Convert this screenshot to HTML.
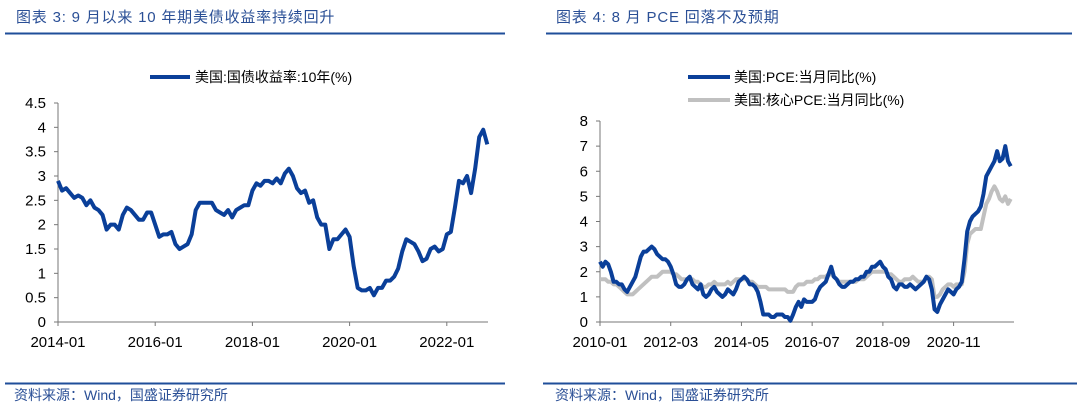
<!DOCTYPE html>
<html><head><meta charset="utf-8"><style>
body{margin:0;background:#fff;}
svg text{font-family:"Liberation Sans","Noto Sans CJK SC",sans-serif;}
</style></head><body>
<svg id="s" width="1080" height="411" xmlns="http://www.w3.org/2000/svg">
<text x="16" y="22" font-size="15" letter-spacing="0.8" fill="#2a4f96">图表 3:  9 月以来 10 年期美债收益率持续回升</text>
<line x1="5" y1="33.5" x2="505" y2="33.5" stroke="#1f4e9a" stroke-width="2"/>
<text x="556" y="22" font-size="15" letter-spacing="0.8" fill="#2a4f96">图表 4:  8 月 PCE 回落不及预期</text>
<line x1="546" y1="33.5" x2="1072" y2="33.5" stroke="#1f4e9a" stroke-width="2"/>
<line x1="5" y1="383.5" x2="505" y2="383.5" stroke="#1f4e9a" stroke-width="2"/>
<line x1="543" y1="383.5" x2="1077" y2="383.5" stroke="#1f4e9a" stroke-width="2"/>
<text x="14" y="400" font-size="14" fill="#2a4f96">资料来源：Wind，国盛证券研究所</text>
<text x="555" y="400" font-size="14" fill="#2a4f96">资料来源：Wind，国盛证券研究所</text>
<line x1="150" y1="77" x2="190" y2="77" stroke="#0a3f99" stroke-width="4"/>
<text x="195" y="82" font-size="14" fill="#000">美国:国债收益率:10年(%)</text>
<line x1="688" y1="77" x2="730" y2="77" stroke="#0a3f99" stroke-width="4"/>
<text x="734" y="82" font-size="14" fill="#000">美国:PCE:当月同比(%)</text>
<line x1="688" y1="100" x2="730" y2="100" stroke="#c0c0c0" stroke-width="4"/>
<text x="734" y="105" font-size="14" fill="#000">美国:核心PCE:当月同比(%)</text>
<g id="L"></g><g id="R"></g>
</svg>
<script>
const yieldVals=[2.9,2.7,2.75,2.65,2.55,2.6,2.55,2.4,2.5,2.35,2.3,2.2,
1.9,2.0,2.0,1.9,2.2,2.35,2.3,2.2,2.1,2.1,2.25,2.25,
2.0,1.75,1.8,1.8,1.85,1.6,1.5,1.55,1.6,1.8,2.3,2.45,
2.45,2.45,2.45,2.3,2.25,2.2,2.3,2.15,2.3,2.35,2.4,2.4,
2.7,2.85,2.8,2.9,2.9,2.85,2.95,2.85,3.05,3.15,3.0,2.75,
2.65,2.7,2.45,2.5,2.15,2.0,2.0,1.5,1.7,1.7,1.8,1.9,
1.75,1.15,0.7,0.65,0.65,0.7,0.55,0.7,0.7,0.85,0.85,0.93,
1.1,1.45,1.7,1.65,1.6,1.45,1.25,1.3,1.5,1.55,1.45,1.5,
1.8,1.85,2.35,2.9,2.85,3.0,2.65,3.15,3.8,3.95,3.65];
const leftXLabels=["2014-01","2016-01","2018-01","2020-01","2022-01"];
const leftXLabelMonths=[0,24,48,72,96];
const leftYTicks=[0,0.5,1,1.5,2,2.5,3,3.5,4,4.5];
const pceVals=[2.4,2.2,2.4,2.3,2.0,1.6,1.6,1.5,1.5,1.3,1.2,1.4,
1.6,1.8,2.2,2.6,2.8,2.8,2.9,3.0,2.9,2.7,2.6,2.5,
2.5,2.4,2.2,1.9,1.5,1.4,1.4,1.5,1.7,1.8,1.5,1.4,
1.3,1.5,1.1,1.0,1.1,1.3,1.4,1.2,1.1,1.0,1.1,1.3,
1.2,1.1,1.3,1.6,1.7,1.8,1.7,1.5,1.5,1.4,1.2,0.8,
0.3,0.3,0.3,0.2,0.2,0.3,0.3,0.3,0.2,0.2,0.05,0.3,
0.6,0.8,0.6,0.9,0.8,0.8,0.8,0.9,1.2,1.4,1.5,1.6,
1.9,2.2,1.8,1.7,1.5,1.4,1.4,1.5,1.6,1.6,1.7,1.7,
1.8,1.8,2.0,2.0,2.2,2.2,2.3,2.4,2.2,2.1,1.8,1.7,
1.4,1.3,1.5,1.5,1.4,1.4,1.5,1.4,1.3,1.4,1.5,1.6,
1.8,1.7,1.3,0.5,0.4,0.7,0.9,1.1,1.3,1.2,1.1,1.3,
1.4,1.6,2.5,3.6,4.0,4.2,4.3,4.4,4.6,5.1,5.8,6.0,
6.2,6.4,6.8,6.4,6.5,7.0,6.4,6.2];
const corePceVals=[1.7,1.7,1.7,1.6,1.6,1.5,1.5,1.4,1.3,1.2,1.1,1.1,
1.1,1.2,1.3,1.4,1.5,1.6,1.7,1.8,1.8,1.8,1.9,2.0,
2.0,2.0,2.0,1.9,1.9,1.8,1.7,1.7,1.7,1.7,1.7,1.6,
1.6,1.5,1.4,1.4,1.5,1.5,1.6,1.5,1.5,1.5,1.5,1.6,
1.5,1.6,1.7,1.7,1.7,1.7,1.7,1.6,1.6,1.5,1.4,1.4,
1.4,1.4,1.3,1.3,1.3,1.3,1.3,1.3,1.3,1.2,1.2,1.2,
1.4,1.5,1.5,1.5,1.6,1.6,1.6,1.7,1.7,1.8,1.8,1.8,
1.9,1.9,1.8,1.7,1.6,1.6,1.6,1.6,1.6,1.6,1.6,1.7,
1.7,1.7,1.8,1.9,2.0,2.0,2.0,2.0,2.0,2.0,1.9,1.9,
1.8,1.7,1.6,1.6,1.7,1.7,1.7,1.8,1.7,1.6,1.6,1.6,
1.8,1.8,1.7,1.0,1.0,1.1,1.3,1.4,1.5,1.5,1.4,1.5,
1.5,1.5,2.0,3.1,3.5,3.6,3.7,3.7,3.7,4.2,4.7,4.9,
5.2,5.4,5.2,4.9,4.8,5.0,4.7,4.9];
const rightXLabels=["2010-01","2012-03","2014-05","2016-07","2018-09","2020-11"];
const rightXLabelMonths=[0,26,52,78,104,130];
const rightYTicks=[0,1,2,3,4,5,6,7,8];

const NS="http://www.w3.org/2000/svg";
function mk(parent,tag,attrs){const e=document.createElementNS(NS,tag);for(const k in attrs)e.setAttribute(k,attrs[k]);parent.appendChild(e);return e;}

function chart(g,cfg){
  const x=m=>cfg.x0+m*cfg.pxm, y=v=>cfg.y0-(v/cfg.ymax)*(cfg.y0-cfg.y1);
  const ya=mk(g,'line',{x1:cfg.x0,y1:y(cfg.ymax),x2:cfg.x0,y2:cfg.y0,stroke:'#777'});
  
  
  const xa=mk(g,'line',{x1:cfg.x0,y1:cfg.y0,x2:cfg.xend,y2:cfg.y0,stroke:'#777'});
  
  
  cfg.yt.forEach(v=>{
    mk(g,'line',{x1:cfg.x0-4,y1:y(v),x2:cfg.x0,y2:y(v),stroke:'#777'});
    const t=mk(g,'text',{x:cfg.x0-12,y:y(v)+5,'font-size':15,'text-anchor':'end'});
    t.textContent=v;
    
    
  });
  cfg.xl.forEach((l,i)=>{
    const px=x(cfg.xm[i]);
    mk(g,'line',{x1:px,y1:cfg.y0,x2:px,y2:cfg.y0+4,stroke:'#777'});
    const t=mk(g,'text',{x:px,y:cfg.y0+25,'font-size':15,'text-anchor':'middle'});
    t.textContent=l;
    
    
  });
  cfg.series.forEach(s=>{
    const p=mk(g,'polyline',{points:s.v.map((v,i)=>x(i)+','+y(v)).join(' '),fill:'none',stroke:s.c,'stroke-width':4,'stroke-linejoin':'round'});
    
    
  });
}
chart(document.getElementById('L'),{x0:58,pxm:4.05,xend:488,y0:322,y1:103,ymax:4.5,yt:leftYTicks,xl:leftXLabels,xm:leftXLabelMonths,
  series:[{v:yieldVals,c:'#0a3f99',n:'yield-line'}]});
chart(document.getElementById('R'),{x0:600,pxm:2.72,xend:1014,y0:322,y1:121,ymax:8,yt:rightYTicks,xl:rightXLabels,xm:rightXLabelMonths,
  series:[{v:corePceVals,c:'#c0c0c0',n:'core-pce-line'},{v:pceVals,c:'#0a3f99',n:'pce-line'}]});
</script>
</body></html>
